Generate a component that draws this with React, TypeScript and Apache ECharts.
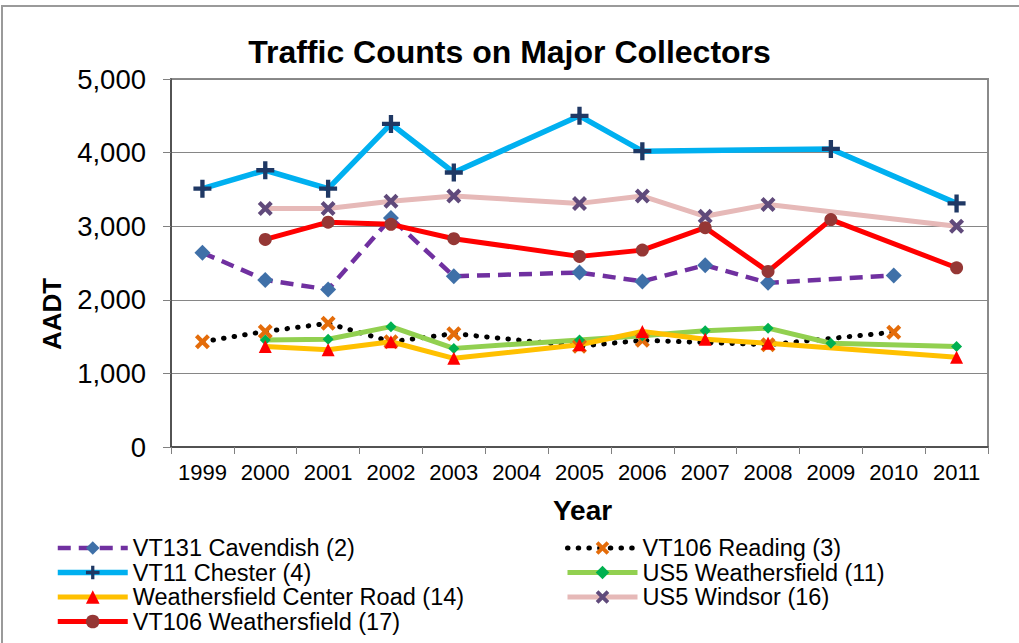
import React, { useEffect, useRef } from "react";
import * as echarts from "echarts";

const years = ["1999", "2000", "2001", "2002", "2003", "2004", "2005", "2006", "2007", "2008", "2009", "2010", "2011"];
const yTicks = [0, 1000, 2000, 3000, 4000, 5000];

const cavendish = [2640, 2270, 2140, 3110, 2320, null, 2370, 2250, 2470, 2230, null, 2330, null];
const reading = [1430, 1570, 1680, 1430, 1540, null, 1370, 1450, null, 1390, null, 1560, null];
const chester = [3510, 3760, 3510, 4390, 3730, null, 4500, 4020, null, null, 4050, null, 3310];
const us5Weathersfield = [null, 1455, 1465, 1635, 1340, null, 1455, 1510, 1580, 1615, 1410, null, 1365];
const weathersfieldCenter = [null, 1365, 1320, 1430, 1205, null, 1390, 1570, 1465, 1410, null, null, 1220];
const us5Windsor = [null, 3240, 3240, 3340, 3410, null, 3310, 3410, 3135, 3295, null, null, 3000];
const vt106Weathersfield = [null, 2820, 3055, 3025, 2830, null, 2590, 2675, 2980, 2385, 3090, null, 2435];

const names = [
  "VT131 Cavendish (2)",
  "VT106 Reading (3)",
  "VT11 Chester (4)",
  "US5 Weathersfield (11)",
  "Weathersfield Center Road (14)",
  "US5 Windsor (16)",
  "VT106 Weathersfield (17)",
];

const FONT = 'Arial, "Liberation Sans", sans-serif';
const X_PATH = "path://M2,0 L5,3 L8,0 L10,2 L7,5 L10,8 L8,10 L5,7 L2,10 L0,8 L3,5 L0,2 Z";
const PLUS_PATH = "path://M3.8,0 H6.2 V3.8 H10 V6.2 H6.2 V10 H3.8 V6.2 H0 V3.8 H3.8 Z";

const lineStyles: any[] = [
  { color: "#7030A0", width: 4.5, type: [13, 8] },
  { color: "#000000", width: 5, type: [0.5, 10.2], cap: "round" },
  { color: "#00B0F0", width: 5.5 },
  { color: "#92D050", width: 5 },
  { color: "#FFC000", width: 5 },
  { color: "#E6B9B8", width: 5 },
  { color: "#FF0000", width: 5 },
];

export default function App() {
  const ref = useRef<HTMLDivElement>(null);
  useEffect(() => {
    document.body.style.margin = "0";
    const chart = echarts.init(ref.current!, null, { renderer: "svg" });
    const mk = (i: number, data: any[], symbol: string, size: number, color: string) => ({
      name: names[i],
      type: "line",
      data,
      connectNulls: true,
      symbol,
      symbolSize: size,
      symbolKeepAspect: true,
      showAllSymbol: true,
      lineStyle: lineStyles[i],
      itemStyle: { color, borderWidth: 0 },
      emphasis: { disabled: true },
    });
    const legendItem = (i: number) => ({
      name: names[i],
      lineStyle: { width: lineStyles[i].width },
    });
    const legendBase = {
      orient: "vertical",
      top: 536,
      padding: 0,
      itemGap: 0.5,
      itemWidth: 70,
      itemHeight: 17,
      textStyle: { fontFamily: FONT, fontSize: 23.5, color: "#000", lineHeight: 24 },
    };
    const option: any = {
      animation: false,
      backgroundColor: "#ffffff",
      title: {
        text: "Traffic Counts on Major Collectors",
        left: "center",
        top: 31,
        textStyle: { fontFamily: FONT, fontSize: 32, fontWeight: "bold", color: "#000" },
      },
      grid: {
        left: 171,
        right: 31,
        top: 79,
        bottom: 196,
        show: true,
        borderColor: "#8a8a8a",
        borderWidth: 2,
        backgroundColor: "transparent",
      },
      legend: [
        { ...legendBase, left: 55, data: [0, 2, 4, 6].map(legendItem) },
        { ...legendBase, left: 565, data: [1, 3, 5].map(legendItem) },
      ],
      xAxis: {
        type: "category",
        data: years,
        boundaryGap: true,
        name: "Year",
        nameLocation: "middle",
        nameGap: 49,
        nameTextStyle: { fontFamily: FONT, fontSize: 28, fontWeight: "bold", color: "#000", padding: [0, 0, 0, 6] },
        axisLine: { lineStyle: { color: "#404040", width: 1.5 } },
        axisTick: { show: true, length: 7, lineStyle: { color: "#808080" } },
        axisLabel: { fontFamily: FONT, fontSize: 22, color: "#000", margin: 14, interval: 0 },
        splitLine: { show: false },
      },
      yAxis: {
        type: "value",
        min: yTicks[0],
        max: yTicks[yTicks.length - 1],
        interval: 1000,
        axisLine: { show: true, lineStyle: { color: "#404040", width: 1.5 } },
        axisTick: { show: true, length: 8, lineStyle: { color: "#808080" } },
        axisLabel: {
          fontFamily: FONT,
          fontSize: 27.5,
          color: "#000",
          margin: 25,
          formatter: (v: number) => v.toLocaleString("en-US"),
        },
        splitLine: { show: true, lineStyle: { color: "#868686", width: 1 } },
      },
      graphic: [
        {
          type: "rect",
          shape: { x: 2, y: 6, width: 1040, height: 700 },
          style: { fill: "none", stroke: "#9a9a9a", lineWidth: 2 },
          silent: true,
        },
        {
          type: "text",
          x: 52,
          y: 314,
          rotation: Math.PI / 2,
          style: {
            text: "AADT",
            fontFamily: FONT,
            fontSize: 26,
            fontWeight: "bold",
            fill: "#000",
            align: "center",
            verticalAlign: "middle",
          },
        },
      ],
      series: [
        mk(0, cavendish, "diamond", 16, "#3F70A8"),
        mk(1, reading, X_PATH, 15, "#E46C0A"),
        mk(2, chester, PLUS_PATH, 18, "#1F3864"),
        mk(3, us5Weathersfield, "diamond", 11, "#00B050"),
        mk(4, weathersfieldCenter, "triangle", 13, "#FF0000"),
        mk(5, us5Windsor, X_PATH, 15, "#604A7B"),
        mk(6, vt106Weathersfield, "circle", 13, "#953735"),
      ],
    };
    chart.setOption(option);
    return () => chart.dispose();
  }, []);
  return <div ref={ref} style={{ width: 1019, height: 643 }} />;
}
